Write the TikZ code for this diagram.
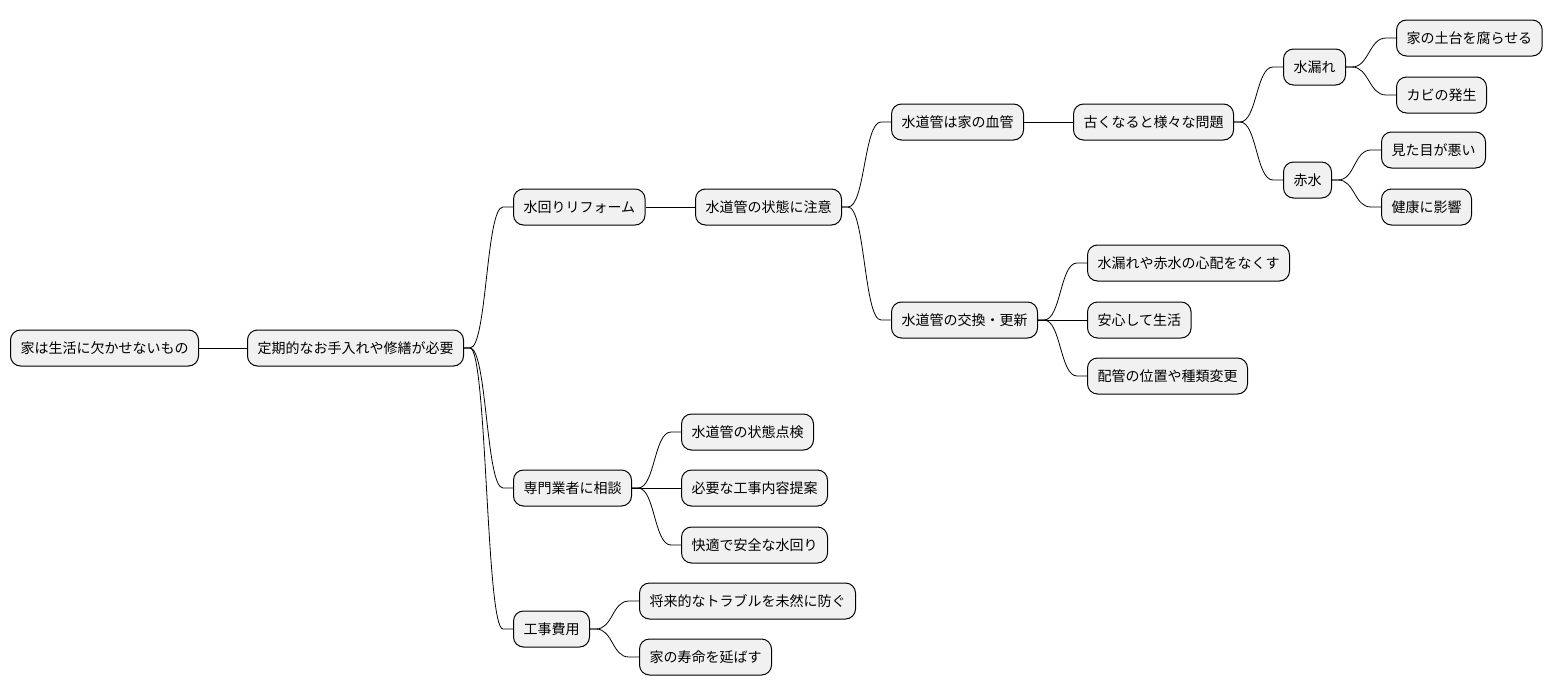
\documentclass[tikz,border=0pt]{standalone}
\usepackage{fontspec}
\setmainfont{Noto Sans CJK JP}
\begin{document}
\begin{tikzpicture}[x=1pt,y=-1pt,
  box/.style={draw=black, line width=1pt, fill=boxfill, rounded corners=10pt,
    anchor=west, minimum height=36pt, inner xsep=10pt, inner ysep=0pt,
    font=\fontsize{14}{16}\selectfont},
  conn/.style={draw=black, line width=0.8pt}]
\definecolor{boxfill}{HTML}{F1F1F1}
\useasboundingbox (0,0) rectangle (1552,696);
\newcommand\mylink[2]{\draw[conn] (#1.east) -- ++(6,0) .. controls +(17,0) and +(-17,0) .. ([xshift=-10pt]#2.west) -- (#2.west);}
\node[box] (n1) at (10,348) {家は生活に欠かせないもの};
\node[box] (n2) at (247,348) {定期的なお手入れや修繕が必要};
\node[box] (n3) at (513,207) {水回りリフォーム};
\node[box] (n4) at (695,207) {水道管の状態に注意};
\node[box] (n5) at (891,122) {水道管は家の血管};
\node[box] (n6) at (1073,122) {古くなると様々な問題};
\node[box] (n7) at (1283,67) {水漏れ};
\node[box] (n8) at (1396,38) {家の土台を腐らせる};
\node[box] (n9) at (1396,95) {カビの発生};
\node[box] (n10) at (1283,180) {赤水};
\node[box] (n11) at (1381,150) {見た目が悪い};
\node[box] (n12) at (1381,207) {健康に影響};
\node[box] (n13) at (891,320) {水道管の交換・更新};
\node[box] (n14) at (1087,263) {水漏れや赤水の心配をなくす};
\node[box] (n15) at (1087,320) {安心して生活};
\node[box] (n16) at (1087,376) {配管の位置や種類変更};
\node[box] (n17) at (513,488) {専門業者に相談};
\node[box] (n18) at (681,432) {水道管の状態点検};
\node[box] (n19) at (681,488) {必要な工事内容提案};
\node[box] (n20) at (681,545) {快適で安全な水回り};
\node[box] (n21) at (513,629) {工事費用};
\node[box] (n22) at (639,601) {将来的なトラブルを未然に防ぐ};
\node[box] (n23) at (639,657) {家の寿命を延ばす};
\draw[conn] (n1) -- (n2);
\mylink{n2}{n3}
\draw[conn] (n3) -- (n4);
\mylink{n4}{n5}
\draw[conn] (n5) -- (n6);
\mylink{n6}{n7}
\mylink{n7}{n8}
\mylink{n7}{n9}
\mylink{n6}{n10}
\mylink{n10}{n11}
\mylink{n10}{n12}
\mylink{n4}{n13}
\mylink{n13}{n14}
\draw[conn] (n13) -- (n15);
\mylink{n13}{n16}
\mylink{n2}{n17}
\mylink{n17}{n18}
\draw[conn] (n17) -- (n19);
\mylink{n17}{n20}
\mylink{n2}{n21}
\mylink{n21}{n22}
\mylink{n21}{n23}
\end{tikzpicture}
\end{document}
